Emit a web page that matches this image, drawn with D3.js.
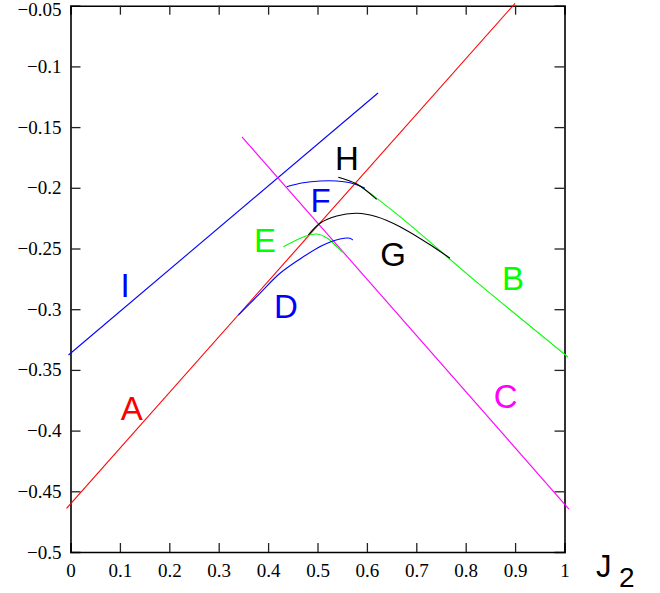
<!DOCTYPE html>
<html>
<head>
<meta charset="utf-8">
<script src="https://cdn.jsdelivr.net/npm/d3@7"></script>
<style>
  body { margin: 0; background: #fff; }
</style>
</head>
<body>
<svg id="chart"></svg>
<script>
// x tick values / labels
var xTicks = [0, 0.1, 0.2, 0.3, 0.4, 0.5, 0.6, 0.7, 0.8, 0.9, 1];
var xTickLabels = ["0", "0.1", "0.2", "0.3", "0.4", "0.5", "0.6", "0.7", "0.8", "0.9", "1"];
var yTicks = [-0.05, -0.1, -0.15, -0.2, -0.25, -0.3, -0.35, -0.4, -0.45, -0.5];
var yTickLabels = ["\u22120.05", "\u22120.1", "\u22120.15", "\u22120.2", "\u22120.25", "\u22120.3", "\u22120.35", "\u22120.4", "\u22120.45", "\u22120.5"];

// curves, [J2, energy]
var lineA = [[-0.008, -0.464], [0.9, -0.048]];
var lineI = [[-0.004, -0.3377], [0.6225, -0.1219]];
var lineC = [[0.347, -0.158], [1.009, -0.4646]];
var curveB = [[0.575, -0.1955], [0.6, -0.2025], [0.667, -0.2238], [0.829, -0.280], [1.007, -0.3394]];
var curveH = [[0.5421, -0.1913], [0.5794, -0.1969], [0.6198, -0.2095]];
var curveF = [[0.4377, -0.1991], [0.4713, -0.1958], [0.5051, -0.1944], [0.5389, -0.1944],
              [0.5658, -0.1958], [0.586, -0.1985], [0.5961, -0.2004]];
var curveG = [[0.4814, -0.2389], [0.5051, -0.2292], [0.5389, -0.2232], [0.5794, -0.221],
              [0.6198, -0.2238], [0.667, -0.232], [0.734, -0.2485], [0.768, -0.258]];
var curveE = [[0.4308, -0.2485], [0.4781, -0.2395], [0.4984, -0.2381], [0.5186, -0.2411],
              [0.5389, -0.2485], [0.551, -0.2531]];
var curveD = [[0.3397, -0.3048], [0.3769, -0.2897], [0.4241, -0.2704], [0.4713, -0.2568],
              [0.5117, -0.2471], [0.5455, -0.2422], [0.5658, -0.2416], [0.5713, -0.243]];

var curves = [
    { pts: lineA, color: "#ff0000" },
    { pts: lineI, color: "#0000ff" },
    { pts: lineC, color: "#ff00ff" },
    { pts: curveB, color: "#00ff00" },
    { pts: curveE, color: "#00ff00" },
    { pts: curveD, color: "#0000ff" },
    { pts: curveF, color: "#0000ff" },
    { pts: curveG, color: "#000000" },
    { pts: curveH, color: "#000000" }
];

// letter labels, [J2, energy] of baseline centre
var labelNames = ["I", "A", "D", "E", "F", "H", "G", "B", "C"];
var labelPos = [[0.1103, -0.29], [0.1239, -0.3913], [0.4362, -0.3073], [0.3937, -0.2529],
                [0.5061, -0.2199], [0.5597, -0.1853], [0.6528, -0.2644], [0.8957, -0.2842], [0.881, -0.3813]];
var labelColors = ["#0000ff", "#ff0000", "#0000ff", "#00ff00", "#0000ff", "#000000", "#000000", "#00ff00", "#ff00ff"];

var width = 660, height = 593;
var svg = d3.select("#chart").attr("width", width).attr("height", height);

var x = d3.scaleLinear().domain([0, 1]).range([70.5, 564.5]);
var y = d3.scaleLinear().domain([-0.5, -0.05]).range([552, 5.7]);

var tickFont = "'Liberation Serif', 'Times New Roman', serif";

// frame + axes
var gx = svg.append("g")
    .attr("transform", `translate(0,${y(-0.5)})`)
    .call(d3.axisBottom(x).tickValues(xTicks).tickSize(-9).tickPadding(12)
        .tickFormat((d, i) => xTickLabels[i]));
var gxt = svg.append("g")
    .attr("transform", `translate(0,${y(-0.05)})`)
    .call(d3.axisTop(x).tickValues(xTicks).tickSize(-9).tickFormat(""));
var gy = svg.append("g")
    .attr("transform", `translate(${x(0)},0)`)
    .call(d3.axisLeft(y).tickValues(yTicks).tickSize(-10).tickPadding(9)
        .tickFormat((d, i) => yTickLabels[i]));
var gyr = svg.append("g")
    .attr("transform", `translate(${x(1)},0)`)
    .call(d3.axisRight(y).tickValues(yTicks).tickSize(-10).tickFormat(""));

[gx, gxt, gy, gyr].forEach(function(g) {
    g.select(".domain").attr("stroke", "#000").attr("stroke-width", 1.6);
    g.selectAll(".tick line").attr("stroke", "#222").attr("stroke-width", 1.3);
    g.selectAll(".tick text")
        .attr("font-family", tickFont)
        .attr("font-size", 19)
        .attr("fill", "#000");
});
// hide the end ticks sitting on the frame
gx.selectAll(".tick").filter(d => d === 0 || d === 1).select("line").remove();
gxt.selectAll(".tick").filter(d => d === 0 || d === 1).select("line").remove();
gy.selectAll(".tick").filter(d => d === -0.5 || d === -0.05).select("line").remove();
gyr.selectAll(".tick").filter(d => d === -0.5 || d === -0.05).select("line").remove();
// top label sits right at the edge, nudge it in a bit
gy.selectAll(".tick").filter(d => d === -0.05).select("text").attr("dy", "0.5em");

// How to draw curves
var line = d3.line()
    .curve(d3.curveCatmullRom)
    .x((d) => x(d[0]))
    .y((d) => y(d[1]));

svg.append("g")
    .selectAll("path")
    .data(curves)
    .enter()
    .append("path")
    .attr("d", (c) => line(c.pts))
    .attr("fill", "none")
    .attr("stroke", (c) => c.color)
    .attr("stroke-width", 1.1);

// letters
svg.append("g")
    .selectAll("text")
    .data(labelNames)
    .enter()
    .append("text")
    .attr("x", (d, i) => x(labelPos[i][0]))
    .attr("y", (d, i) => y(labelPos[i][1]))
    .attr("text-anchor", "middle")
    .attr("font-family", "'Liberation Sans', Arial, sans-serif")
    .attr("font-size", 33)
    .attr("fill", (d, i) => labelColors[i])
    .text((d) => d);

// axis title J2
var titleFont = "'Liberation Sans', Arial, sans-serif";
svg.append("text")
    .attr("x", 596)
    .attr("y", 577)
    .attr("font-family", titleFont)
    .attr("font-size", 31)
    .attr("fill", "#000")
    .text("J");
svg.append("text")
    .attr("x", 619)
    .attr("y", 587)
    .attr("font-family", titleFont)
    .attr("font-size", 28)
    .attr("fill", "#000")
    .text("2");
</script>
</body>
</html>
